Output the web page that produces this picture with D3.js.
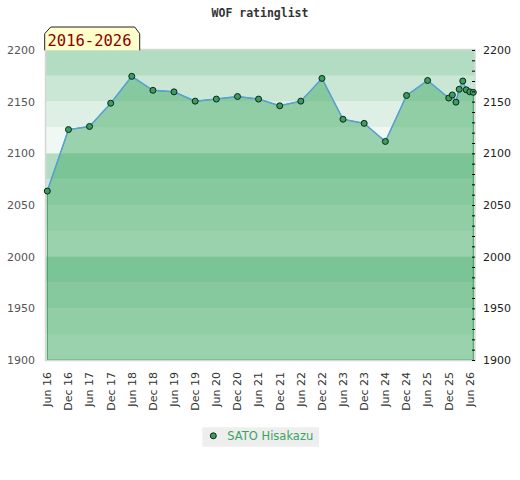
<!DOCTYPE html>
<html><head><meta charset="utf-8">
<script src="https://cdn.jsdelivr.net/npm/d3@7"></script>
<style>body{margin:0;background:#fff}svg{display:block}</style>
</head><body>
<svg id="c" width="520" height="480"></svg>
<script>
const dates = ["2016-06-01","2016-12-01","2017-06-01","2017-12-01","2018-06-01","2018-12-01","2019-06-01","2019-12-01","2020-06-01","2020-12-01","2021-06-01","2021-12-01","2022-06-01","2022-12-01","2023-06-01","2023-12-01","2024-06-01","2024-12-01","2025-06-01","2025-12-01","2026-01-01","2026-02-01","2026-03-01","2026-04-01","2026-05-01","2026-06-01","2026-07-01"];
const ratings = [2063.5,2123,2126,2148.5,2174.5,2161,2159.5,2150.5,2152.5,2155,2152.5,2146,2150.5,2172.5,2133,2129,2111.5,2156,2170.5,2153.5,2156.5,2149.5,2162,2170,2161.5,2159.5,2159];
const tickDates = ["2016-06-01","2016-12-01","2017-06-01","2017-12-01","2018-06-01","2018-12-01","2019-06-01","2019-12-01","2020-06-01","2020-12-01","2021-06-01","2021-12-01","2022-06-01","2022-12-01","2023-06-01","2023-12-01","2024-06-01","2024-12-01","2025-06-01","2025-12-01","2026-06-01"];
const tickLabels = ["Jun 16","Dec 16","Jun 17","Dec 17","Jun 18","Dec 18","Jun 19","Dec 19","Jun 20","Dec 20","Jun 21","Dec 21","Jun 22","Dec 22","Jun 23","Dec 23","Jun 24","Dec 24","Jun 25","Dec 25","Jun 26"];
const yTicks = [1900,1950,2000,2050,2100,2150,2200];
const bandColors = ["#b3ddc3","#cae7d5","#def0e5","#eff8f2"];
const playerName = "SATO Hisakazu";
const titleText = "WOF ratinglist";
const periodText = "2016-2026";

const parse = d3.utcParse("%Y-%m-%d");
const data = dates.map((d,i)=>({date:parse(d), v:ratings[i]}));
const svg = d3.select("#c");
const L=46, R=475, T=50, B=360;
const x = d3.scaleUtc().domain([parse(dates[0]), parse(dates[dates.length-1])]).range([47.3,473.3]);
const y = d3.scaleLinear().domain([1900,2200]).range([B,T]);

// bands
const bands = d3.range(2200,1900,-25);
svg.append("g").selectAll("rect").data(bands).join("rect")
  .attr("x",L).attr("width",R-L)
  .attr("y",d=>y(d)).attr("height",d=>y(d-25)-y(d))
  .attr("fill",(d,i)=>bandColors[i%4]);

// area
const area = d3.area().x(d=>x(d.date)).y0(y(1900)).y1(d=>y(d.v));
svg.append("path").datum(data).attr("d",area)
  .attr("fill","rgba(68,172,104,0.5)").attr("stroke","#3b9c5c").attr("stroke-width",1);
// line
const line = d3.line().x(d=>x(d.date)).y(d=>y(d.v));
svg.append("path").datum(data).attr("d",line)
  .attr("fill","none").attr("stroke","#5aa0d8").attr("stroke-width",1.5);

// border
svg.append("rect").attr("x",L-0.5).attr("y",T-0.5).attr("width",R-L+0.5).attr("height",B-T+1)
  .attr("fill","none").attr("stroke","#d6d6d6").attr("stroke-width",1.5);

// points
svg.append("g").selectAll("circle").data(data).join("circle")
  .attr("cx",d=>x(d.date)).attr("cy",d=>y(d.v)).attr("r",3)
  .attr("fill","#3a9e5e").attr("stroke","#10261a").attr("stroke-width",1);

// right axis with minor ticks
const rAxis = d3.axisRight(y).tickValues(d3.range(1900,2201,10)).tickSize(0).tickFormat("");
const rg = svg.append("g").attr("transform",`translate(${R},0)`).call(rAxis);
rg.select(".domain").remove();
rg.selectAll(".tick").append("line").attr("x1",-3).attr("x2",0).attr("stroke","#000");
svg.append("g").attr("transform",`translate(${R},0)`)
  .call(d3.axisRight(y).tickValues(yTicks).tickSize(0).tickPadding(8).tickFormat(d3.format("d")))
  .call(g=>g.select(".domain").remove())
  .selectAll("text").attr("font-family","DejaVu Sans").attr("font-size","11px").attr("fill","#222");

// left axis
svg.append("g").attr("transform",`translate(${L},0)`)
  .call(d3.axisLeft(y).tickValues(yTicks).tickSize(0).tickPadding(11).tickFormat(d3.format("d")))
  .call(g=>g.select(".domain").remove())
  .selectAll("text").attr("font-family","DejaVu Sans").attr("font-size","11px").attr("fill","#555");

// x axis labels
const xg = svg.append("g").attr("transform",`translate(0,${B})`)
  .call(d3.axisBottom(x).tickValues(tickDates.map(parse)).tickSize(0).tickFormat((d,i)=>tickLabels[i]));
xg.select(".domain").remove();
xg.selectAll("text").attr("font-family","DejaVu Sans").attr("font-size","11px").attr("fill","#333")
  .attr("text-anchor","end").attr("transform","rotate(-90)").attr("x",-12).attr("y",-0.5).attr("dy","0.35em");

// title
svg.append("text").attr("x",260).attr("y",16.5).attr("text-anchor","middle")
  .attr("font-family","DejaVu Sans Mono").attr("font-weight","bold").attr("font-size","11.5px")
  .attr("fill","#333").text(titleText);

// period box
svg.append("path").attr("d","M44.7,50.3 L44.7,33.7 L50.7,27 L134.7,27 L139.7,33.7 L139.7,50.3")
  .attr("fill","#ffffcc").attr("stroke","#222").attr("stroke-width",1);
svg.append("text").attr("x",89.5).attr("y",46).attr("text-anchor","middle")
  .attr("font-family","DejaVu Sans Mono").attr("font-size","15.5px").attr("fill","#8b0000").text(periodText);

// legend
svg.append("rect").attr("x",202.3).attr("y",427.3).attr("width",116.7).attr("height",19.4).attr("fill","#eeeeee");
svg.append("circle").attr("cx",213.3).attr("cy",435.8).attr("r",3).attr("fill","#3a9e5e").attr("stroke","#10261a").attr("stroke-width",1);
svg.append("text").attr("x",227.3).attr("y",440).attr("font-family","DejaVu Sans").attr("font-size","11.5px")
  .attr("fill","#3aa35f").text(playerName);
</script>
</body></html>
